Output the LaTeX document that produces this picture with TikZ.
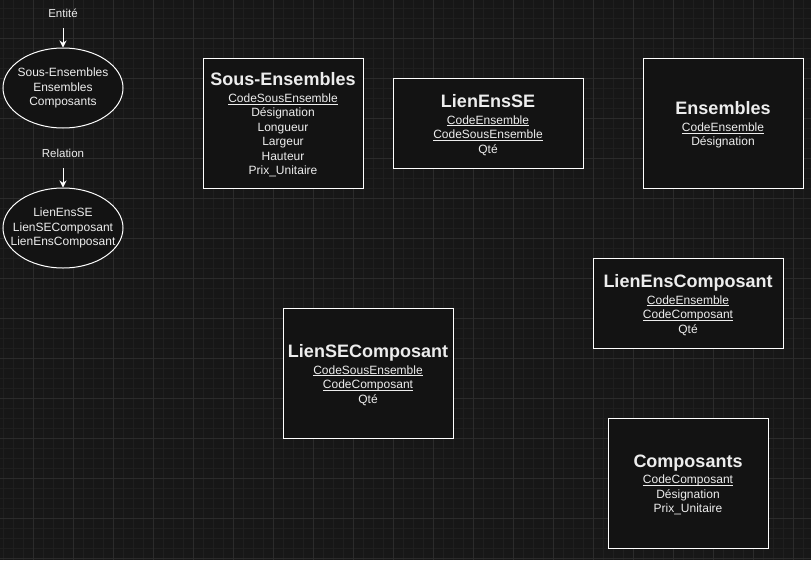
\documentclass[tikz,border=0pt]{standalone}
\usepackage{fontspec}
\setmainfont{Liberation Sans}
\usetikzlibrary{shapes.geometric,arrows.meta}
\definecolor{bgc}{HTML}{171717}
\definecolor{minorc}{HTML}{1F1F1F}
\definecolor{majorc}{HTML}{2B2B2B}
\definecolor{boxc}{HTML}{131313}
\definecolor{txt}{HTML}{EDEDED}
\tikzset{
  entbox/.style={draw=white, line width=1pt, fill=boxc, inner sep=0pt},
  enttext/.style={text=txt, align=center, inner sep=0pt,
    font=\fontsize{12}{14.5}\selectfont},
  ell/.style={ellipse, draw=white, line width=1pt, fill=boxc,
    minimum width=120pt, minimum height=80pt, inner sep=0pt},
  elltext/.style={text=txt, align=center, inner sep=0pt,
    font=\fontsize{12}{14.7}\selectfont},
  lbl/.style={text=txt, font=\fontsize{11.5}{13}\selectfont, inner sep=0pt},
  arr/.style={draw=white, line width=1pt, -{Stealth[length=7pt,width=7pt]}},
}
\newcommand{\ttl}[1]{{\fontsize{18}{18}\selectfont\bfseries #1}}
\newcommand{\ul}[1]{\setbox0\hbox{#1}\rlap{\rule[-2pt]{\wd0}{0.7pt}}\box0}
\begin{document}
\begin{tikzpicture}[x=1pt,y=-1pt]
\fill[bgc] (0,0) rectangle (811,560);
\useasboundingbox (0,0) rectangle (811,560);
\foreach \i in {3,13,...,811} \draw[minorc, line width=0.8pt] (\i,0) -- (\i,560);
\foreach \j in {8,18,...,560} \draw[minorc, line width=0.8pt] (0,\j) -- (811,\j);
\foreach \i in {-7,33,...,811} \draw[majorc, line width=1pt] (\i,0) -- (\i,560);
\foreach \j in {-2,38,...,560} \draw[majorc, line width=1pt] (0,\j) -- (811,\j);

% legend
\node[lbl] (lent) at (63,13) {Entité};
\coordinate (a1) at (63,28);
\node[ell] (e1) at (63,88) {};
\node[elltext] (t1) at (e1.center) {Sous-Ensembles\\Ensembles\\Composants};
\draw[arr] (a1) -- (e1);
\node[lbl] (lrel) at (63,153) {Relation};
\coordinate (a2) at (63,168);
\node[ell] (e2) at (63,228) {};
\node[elltext] (t2) at (e2.center) {LienEnsSE\\LienSEComposant\\LienEnsComposant};
\draw[arr] (a2) -- (e2);

% entities and relations
\node[entbox, minimum width=160pt, minimum height=130pt] (se) at (283,123) {};
\node[enttext] (se-t) at ([yshift=-2pt]se.center)
  {\ttl{Sous-Ensembles}\\[2pt]\ul{CodeSousEnsemble}\\Désignation\\Longueur\\Largeur\\Hauteur\\Prix\_Unitaire};
\node[entbox, minimum width=190pt, minimum height=90pt] (lese) at (488,123) {};
\node[enttext] (lese-t) at ([yshift=-2pt]lese.center)
  {\ttl{LienEnsSE}\\[2pt]\ul{CodeEnsemble}\\\ul{CodeSousEnsemble}\\Qté};
\node[entbox, minimum width=160pt, minimum height=130pt] (ens) at (723,123) {};
\node[enttext] (ens-t) at ([yshift=-2pt]ens.center)
  {\ttl{Ensembles}\\[2pt]\ul{CodeEnsemble}\\Désignation};
\node[entbox, minimum width=190pt, minimum height=90pt] (lec) at (688,303) {};
\node[enttext] (lec-t) at ([yshift=-2pt]lec.center)
  {\ttl{LienEnsComposant}\\[2pt]\ul{CodeEnsemble}\\\ul{CodeComposant}\\Qté};
\node[entbox, minimum width=170pt, minimum height=130pt] (lsec) at (368,373) {};
\node[enttext] (lsec-t) at ([yshift=-2pt]lsec.center)
  {\ttl{LienSEComposant}\\[2pt]\ul{CodeSousEnsemble}\\\ul{CodeComposant}\\Qté};
\node[entbox, minimum width=160pt, minimum height=130pt] (comp) at (688,483) {};
\node[enttext] (comp-t) at ([yshift=-2pt]comp.center)
  {\ttl{Composants}\\[2pt]\ul{CodeComposant}\\Désignation\\Prix\_Unitaire};
\end{tikzpicture}
\end{document}
